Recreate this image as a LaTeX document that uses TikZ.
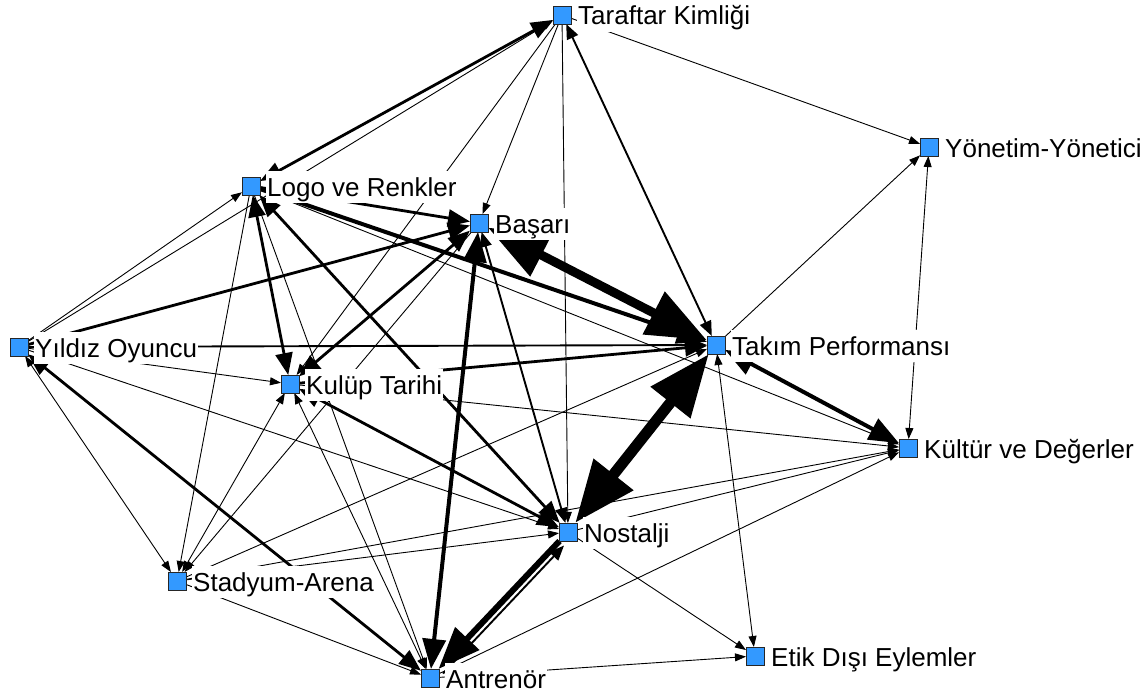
\documentclass[tikz,border=0pt]{standalone}
\usepackage{fontspec}
\setmainfont{Liberation Sans}
\usetikzlibrary{arrows.meta}
\pgfdeclarelayer{edges}
\pgfdeclarelayer{labels}
\pgfsetlayers{edges,labels,main}
\definecolor{nodeblue}{RGB}{51,153,255}
\begin{document}
\begin{tikzpicture}[x=1pt,y=-1pt,
  sq/.style={draw=black!85, line width=0.8pt, fill=nodeblue, minimum size=18pt, inner sep=0pt, outer sep=0pt},
  lbl/.style={anchor=base west, xshift=15pt, yshift=-10pt, fill=white, inner sep=1pt, text height=24pt, text depth=6pt, font=\fontsize{26}{30}\selectfont},
  e1/.style={line width=0.9pt, >={Triangle[length=11pt,width=8pt]}},
  e2/.style={line width=1.9pt, >={Triangle[length=15pt,width=12pt]}},
  e3/.style={line width=2.8pt, >={Triangle[length=22pt,width=17pt]}},
  e4/.style={line width=4pt, >={Triangle[length=30pt,width=23pt]}},
  e5/.style={line width=6pt, >={Triangle[length=42pt,width=32pt]}},
  e6/.style={line width=9pt, >={Triangle[length=60pt,width=46pt]}},
  e7/.style={line width=11pt, >={Triangle[length=62pt,width=48pt]}},
]
\useasboundingbox (0,0) rectangle (1146,693);
% nodes
\node[sq] (T)  at (562,15)  {};
\node[sq] (Y)  at (929,147) {};
\node[sq] (L)  at (251,186) {};
\node[sq] (B)  at (479,223) {};
\node[sq] (YO) at (19,347)  {};
\node[sq] (TP) at (716,345) {};
\node[sq] (K)  at (290,384) {};
\node[sq] (KD) at (908,448) {};
\node[sq] (N)  at (568,532) {};
\node[sq] (S)  at (177,581) {};
\node[sq] (E)  at (755,656) {};
\node[sq] (A)  at (430,678) {};

\begin{pgfonlayer}{edges}
\fill[white] (0,0) rectangle (1146,693);
% thin ties
\draw[e1,->] (T) -- (Y);
\draw[e1,->] (YO) -- (T);
\draw[e1,->] (YO) -- (L);
\draw[e1,->] (T) -- (K);
\draw[e1,->] (T) -- (B);
\draw[e1,->] (T) -- (N);
\draw[e1,->] (TP) -- (Y);
\draw[e1,<->] (Y) -- (KD);
\draw[e1,->] (L) -- (KD);
\draw[e1,->] (K) -- (KD);
\draw[e1,->] (S) -- (KD);
\draw[e1,->] (N) -- (KD);
\draw[e1,->] (A) -- (KD);
\draw[e1,<->] (TP) -- (E);
\draw[e1,->] (N) -- (E);
\draw[e1,->] (A) -- (E);
\draw[e1,->] (YO) -- (K);
\draw[e1,->] (YO) -- (N);
\draw[e1,<->] (YO) -- (S);
\draw[e1,->] (L) -- (S);
\draw[e1,<->] (K) -- (S);
\draw[e1,->] (B) -- (S);
\draw[e1,->] (S) -- (TP);
\draw[e1,->] (S) -- (N);
\draw[e1,->] (S) -- (A);
\draw[e1,->] (L) -- (A);
\draw[e1,<->] (K) -- (A);
% medium ties
\draw[e3,<->] (T) -- (L);
\draw[e2,<->] (T) -- (TP);
\draw[e3,->] (YO) -- (B);
\draw[e2,->] (YO) -- (TP);
\draw[e3,<->] (YO) -- (A);
\draw[e3,->] (L) -- (B);
\draw[e4,->] (L) -- (TP);
\draw[e3,<->] (L) -- (K);
\draw[e3,<->] (L) -- (N);
\draw[e3,<->] (K) -- (B);
\draw[e3,->] (K) -- (TP);
\draw[e3,<->] (K) -- (N);
\draw[e2,<->] (B) -- (N);
\draw[e4,<->] (B) -- (A);
\draw[e4,<->] (TP) -- (KD);
% strong ties
\draw[e5,->] (N) -- (A);
\draw[e2,->,transform canvas={xshift=4.5pt,yshift=-4.5pt}] (A) -- (N);
\draw[e6,<->] (B) -- (TP);
\draw[e7,<->] (TP) -- (N);
\end{pgfonlayer}

\begin{pgfonlayer}{labels}
\node[lbl] (Tl)  at (T.center)  {Taraftar Kimliği};
\node[lbl] (Yl)  at (Y.center)  {Yönetim-Yönetici};
\node[lbl] (Ll)  at (L.center)  {Logo ve Renkler};
\node[lbl] (Bl)  at (B.center)  {Başarı};
\node[lbl] (YOl) at (YO.center) {Yıldız Oyuncu};
\node[lbl] (TPl) at (TP.center) {Takım Performansı};
\node[lbl] (Kl)  at (K.center)  {Kulüp Tarihi};
\node[lbl] (KDl) at (KD.center) {Kültür ve Değerler};
\node[lbl] (Nl)  at (N.center)  {Nostalji};
\node[lbl] (Sl)  at (S.center)  {Stadyum-Arena};
\node[lbl] (El)  at (E.center)  {Etik Dışı Eylemler};
\node[lbl] (Al)  at (A.center)  {Antrenör};
\end{pgfonlayer}
\end{tikzpicture}
\end{document}
